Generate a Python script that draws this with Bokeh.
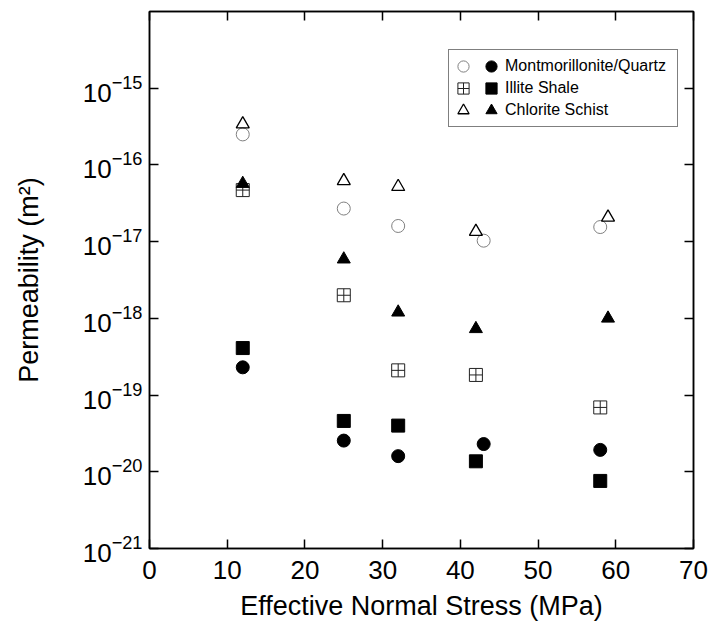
from bokeh.plotting import figure
from bokeh.models import (Range1d, LinearAxis, LogAxis, FixedTicker, Legend,
                          LegendItem, CustomLabelingPolicy)
from bokeh.core.properties import value
from bokeh.embed import file_html
from bokeh.resources import INLINE

# ---- data ----
stress_mont = [12, 25, 32, 43, 58]
mont_open = [2.5e-16, 2.7e-17, 1.6e-17, 1.03e-17, 1.55e-17]
mont_filled = [2.3e-19, 2.55e-20, 1.6e-20, 2.3e-20, 1.93e-20]

stress_ill = [12, 25, 32, 42, 58]
ill_open = [4.7e-17, 2.0e-18, 2.1e-19, 1.83e-19, 6.9e-20]
ill_filled = [4.1e-19, 4.6e-20, 4.0e-20, 1.37e-20, 7.6e-21]

stress_chl = [12, 25, 32, 42, 59]
chl_open = [3.4e-16, 6.2e-17, 5.2e-17, 1.35e-17, 2.07e-17]
chl_filled = [5.7e-17, 5.9e-18, 1.2e-18, 7.3e-19, 1.0e-18]

x_ticks = [0, 10, 20, 30, 40, 50, 60, 70]
y_ticks = [1e-21, 1e-20, 1e-19, 1e-18, 1e-17, 1e-16, 1e-15]

series_labels = ["Montmorillonite/Quartz", "Illite Shale", "Chlorite Schist"]

FONT = "Liberation Sans"

p = figure(frame_width=544, frame_height=537,
           x_range=Range1d(0, 70), y_range=Range1d(1e-21, 1e-14),
           y_axis_type="log", output_backend="svg", toolbar_location=None,
           min_border_left=149, min_border_right=20, min_border_top=11,
           min_border_bottom=80, background_fill_color="white",
           border_fill_color="white")

p.xgrid.visible = False
p.ygrid.visible = False
p.outline_line_color = "black"
p.outline_line_width = 1.5

hide_labels = CustomLabelingPolicy(
    code="for (let i = 0; i < indices.size; i++) { indices.unset(i) }\nreturn indices")


def style_axis(ax, show_labels=True):
    ax.major_tick_in = 9
    ax.major_tick_out = 0
    ax.minor_tick_line_color = None
    ax.axis_line_color = "black"
    ax.axis_line_width = 1.5
    ax.major_tick_line_color = "black"
    ax.major_tick_line_width = 1.5
    ax.major_label_text_font = FONT
    ax.major_label_text_color = "black"
    if show_labels:
        ax.major_label_text_font_size = "26px"
        ax.major_label_standoff = 7
    else:
        ax.major_label_text_font_size = "1px"
        ax.major_label_standoff = 0
        ax.major_label_policy = hide_labels
    ax.axis_label_text_font = FONT
    ax.axis_label_text_font_size = "27px"
    ax.axis_label_text_font_style = "normal"
    ax.axis_label_text_color = "black"


p.xaxis.ticker = FixedTicker(ticks=x_ticks)
p.yaxis.ticker = FixedTicker(ticks=y_ticks)
style_axis(p.xaxis[0])
style_axis(p.yaxis[0])
p.xaxis.axis_label = "Effective Normal Stress (MPa)"
p.yaxis.axis_label = "Permeability (m²)"
p.xaxis.major_label_standoff = 12
p.xaxis.axis_label_standoff = 9
p.yaxis.axis_label_standoff = 36

top_ax = LinearAxis(ticker=FixedTicker(ticks=x_ticks))
style_axis(top_ax, show_labels=False)
p.add_layout(top_ax, "above")
right_ax = LogAxis(ticker=FixedTicker(ticks=y_ticks))
style_axis(right_ax, show_labels=False)
p.add_layout(right_ax, "right")

# ---- markers ----
SZ = 13
r_ill_o = p.scatter(stress_ill, ill_open, marker="square_cross", size=SZ,
                    fill_color=None, line_color="#222222", line_width=1)
r_ill_f = p.scatter(stress_ill, ill_filled, marker="square", size=SZ,
                    fill_color="black", line_color="black")
r_mont_o = p.scatter(stress_mont, mont_open, marker="circle", size=SZ,
                     fill_color=None, line_color="#808080", line_width=1)
r_mont_f = p.scatter(stress_mont, mont_filled, marker="circle", size=SZ,
                     fill_color="black", line_color="black")
r_chl_o = p.scatter(stress_chl, chl_open, marker="triangle", size=SZ,
                    fill_color=None, line_color="black", line_width=1.3)
r_chl_f = p.scatter(stress_chl, chl_filled, marker="triangle", size=SZ,
                    fill_color="black", line_color="black")

# ---- legend: a framed box plus one borderless legend per row ----
dummy = p.scatter(x=[], y=[], fill_alpha=0, line_alpha=0)
box = Legend(items=[LegendItem(label=value(""), renderers=[dummy])],
             location=(299, 421), margin=0, padding=0, spacing=0,
             glyph_width=228, glyph_height=76, label_width=0,
             label_standoff=0, label_height=0, label_text_font_size="1px",
             border_line_color="black", border_line_width=1.2,
             background_fill_color="white", background_fill_alpha=1.0)
p.add_layout(box)

row_pairs = [(r_mont_o, r_mont_f), (r_ill_o, r_ill_f), (r_chl_o, r_chl_f)]
row_y = [467, 445, 423]
for (ro, rf), lab, yy in zip(row_pairs, series_labels, row_y):
    lg = Legend(items=[LegendItem(label=value(""), renderers=[ro]),
                       LegendItem(label=value(lab), renderers=[rf])],
                orientation="horizontal", location=(300, yy), margin=0,
                padding=0, spacing=0, glyph_width=28, glyph_height=30,
                label_width=0, label_standoff=0, label_height=20,
                label_text_font=FONT, label_text_font_size="16px",
                label_text_color="black", label_text_baseline="middle",
                border_line_color=None, background_fill_alpha=0)
    p.add_layout(lg)

open("out.html", "w").write(file_html(p, INLINE))
